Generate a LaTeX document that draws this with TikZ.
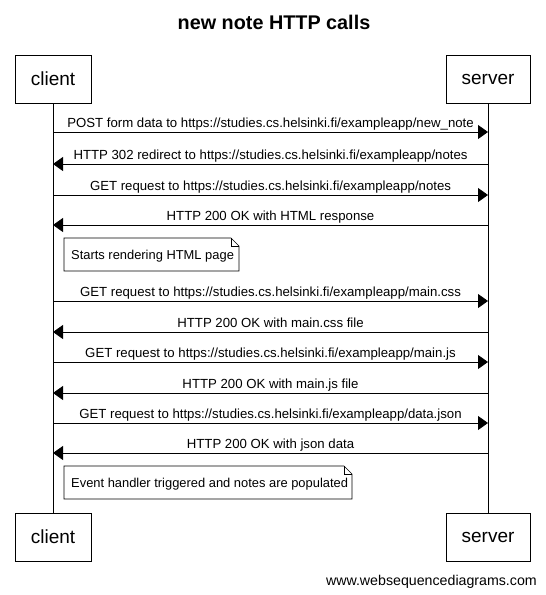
\documentclass[tikz,border=0pt]{standalone}
\usepackage{fontspec}
\setmainfont{Liberation Sans}
\usetikzlibrary{arrows.meta}
\begin{document}
\begin{tikzpicture}[x=1pt,y=-1pt,
  actor/.style={draw,line width=0.8pt,minimum width=76pt,minimum height=48pt,font=\fontsize{19}{22}\selectfont,inner sep=0pt},
  lifeline/.style={line width=0.8pt},
  msg/.style={line width=0.8pt,-{Triangle[length=10pt,width=14pt]}},
  lbl/.style={font=\fontsize{13.2}{15}\selectfont,inner sep=0pt,anchor=base},
  notetxt/.style={font=\fontsize{12.9}{15}\selectfont,inner sep=0pt,anchor=base west}]
\useasboundingbox (0,0) rectangle (546,595);
\fill[white] (0,0) rectangle (546,595);
\node[font=\bfseries\fontsize{19.8}{23}\selectfont] (title) at (274,22) {new note HTTP calls};
\node[actor] (ct) at (53,79) {client};
\node[actor,minimum width=84pt] (st) at (488,79) {server};
\node[actor] (cb) at (53,537) {client};
\node[actor,minimum width=84pt] (sb) at (488,537) {server};
\draw[lifeline] (ct.south) -- (cb.north);
\draw[lifeline] (st.south) -- (sb.north);
% message coordinates
\foreach \n/\y in {1/132,2/164,3/195,4/225,5/301,6/332,7/362,8/393,9/423,10/453}{
  \coordinate (c\n) at (53,\y);
  \coordinate (s\n) at (488,\y);
}
\draw[msg] (c1) -- (s1) node[lbl,pos=0.5,yshift=4.5pt] {POST form data to https://studies.cs.helsinki.fi/exampleapp/new\_note};
\draw[msg] (s2) -- (c2) node[lbl,pos=0.5,yshift=4.5pt] {HTTP 302 redirect to https://studies.cs.helsinki.fi/exampleapp/notes};
\draw[msg] (c3) -- (s3) node[lbl,pos=0.5,yshift=4.5pt] {GET request to https://studies.cs.helsinki.fi/exampleapp/notes};
\draw[msg] (s4) -- (c4) node[lbl,pos=0.5,yshift=4.5pt] {HTTP 200 OK with HTML response};
\draw[msg] (c5) -- (s5) node[lbl,pos=0.5,yshift=4.5pt] {GET request to https://studies.cs.helsinki.fi/exampleapp/main.css};
\draw[msg] (s6) -- (c6) node[lbl,pos=0.5,yshift=4.5pt] {HTTP 200 OK with main.css file};
\draw[msg] (c7) -- (s7) node[lbl,pos=0.5,yshift=4.5pt] {GET request to https://studies.cs.helsinki.fi/exampleapp/main.js};
\draw[msg] (s8) -- (c8) node[lbl,pos=0.5,yshift=4.5pt] {HTTP 200 OK with main.js file};
\draw[msg] (c9) -- (s9) node[lbl,pos=0.5,yshift=4.5pt] {GET request to https://studies.cs.helsinki.fi/exampleapp/data.json};
\draw[msg] (s10) -- (c10) node[lbl,pos=0.5,yshift=4.5pt] {HTTP 200 OK with json data};
% notes
\draw[line width=0.6pt,fill=white] (64,238) -- (231,238) -- (239,246) -- (239,271) -- (64,271) -- cycle;
\draw[line width=0.6pt] (231,238) -- (231,246) -- (239,246);
\node[notetxt] (n1) at (71,259) {Starts rendering HTML page};
\draw[line width=0.6pt,fill=white] (64,466) -- (344,466) -- (352,474) -- (352,499) -- (64,499) -- cycle;
\draw[line width=0.6pt] (344,466) -- (344,474) -- (352,474);
\node[notetxt] (n2) at (71,487) {Event handler triggered and notes are populated};
\node[font=\fontsize{14.2}{16}\selectfont,anchor=base east,inner sep=0pt] (wsd) at (537,585) {www.websequencediagrams.com};
\end{tikzpicture}
\end{document}
